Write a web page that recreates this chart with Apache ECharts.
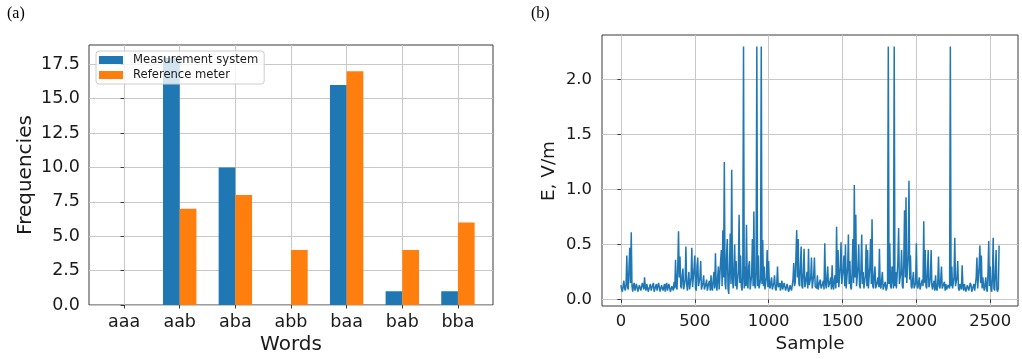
<!DOCTYPE html>
<html>
<head>
<meta charset="utf-8">
<script src="https://cdn.jsdelivr.net/npm/echarts@6/dist/echarts.min.js"></script>
<style>
  html, body { margin: 0; padding: 0; background: #fff; }
  #chart { width: 1022px; height: 359px; }
</style>
</head>
<body>
<div id="chart"></div>
<script>
// (a) word frequencies
const words = ["aaa", "aab", "aba", "abb", "baa", "bab", "bba"];
const measurement = [0, 18, 10, 0, 16, 1, 1];
const reference = [0, 7, 8, 4, 17, 4, 6];
const freqTicks = [0, 2.5, 5, 7.5, 10, 12.5, 15, 17.5];

// (b) E-field, one reading every sampleStep samples (20 per row = 100 samples)
const sampleStep = 5;
const eField = [
  0.13, 0.09, 0.07, 0.12, 0.17, 0.10, 0.08, 0.14, 0.40, 0.11, 0.09, 0.30, 0.47, 0.15, 0.61, 0.12, 0.07, 0.13, 0.15, 0.08,
  0.08, 0.14, 0.15, 0.07, 0.07, 0.13, 0.14, 0.08, 0.08, 0.15, 0.16, 0.09, 0.20, 0.11, 0.08, 0.14, 0.15, 0.07, 0.07, 0.12,
  0.14, 0.08, 0.08, 0.13, 0.15, 0.07, 0.07, 0.12, 0.14, 0.08, 0.08, 0.15, 0.15, 0.07, 0.07, 0.13, 0.13, 0.08, 0.08, 0.14,
  0.07, 0.13, 0.15, 0.08, 0.08, 0.14, 0.14, 0.07, 0.07, 0.12, 0.13, 0.08, 0.16, 0.10, 0.36, 0.12, 0.09, 0.30, 0.62, 0.20,
  0.39, 0.12, 0.10, 0.22, 0.28, 0.09, 0.09, 0.18, 0.48, 0.14, 0.08, 0.16, 0.25, 0.09, 0.10, 0.20, 0.47, 0.11, 0.12, 0.28,
  0.40, 0.10, 0.08, 0.30, 0.38, 0.12, 0.11, 0.20, 0.35, 0.09, 0.08, 0.15, 0.22, 0.09, 0.09, 0.14, 0.18, 0.08, 0.07, 0.15,
  0.17, 0.08, 0.22, 0.10, 0.08, 0.18, 0.25, 0.10, 0.42, 0.14, 0.08, 0.20, 0.30, 0.09, 0.10, 0.35, 0.45, 0.12, 0.63, 0.20,
  1.25, 0.15, 0.09, 0.40, 0.55, 0.10, 0.05, 0.30, 0.60, 0.14, 1.18, 0.20, 0.10, 0.28, 0.50, 0.12, 0.35, 0.09, 0.08, 0.25,
  0.77, 0.15, 0.40, 0.12, 0.08, 0.20, 2.30, 0.10, 0.30, 0.12, 0.68, 0.14, 0.10, 0.30, 0.35, 0.09, 0.09, 0.22, 0.55, 0.12,
  0.80, 0.14, 0.10, 0.25, 2.30, 0.12, 0.40, 0.10, 0.09, 0.18, 2.30, 0.14, 0.54, 0.12, 0.30, 0.09, 0.10, 0.20, 0.45, 0.11,
  0.35, 0.12, 0.10, 0.16, 0.20, 0.09, 0.09, 0.15, 0.22, 0.10, 0.08, 0.14, 0.30, 0.11, 0.10, 0.15, 0.08, 0.13, 0.17, 0.09,
  0.09, 0.15, 0.16, 0.08, 0.08, 0.14, 0.15, 0.07, 0.09, 0.13, 0.14, 0.08, 0.07, 0.18, 0.33, 0.12, 0.15, 0.40, 0.63, 0.20,
  0.55, 0.14, 0.12, 0.30, 0.48, 0.12, 0.10, 0.25, 0.46, 0.11, 0.14, 0.20, 0.25, 0.10, 0.46, 0.13, 0.12, 0.20, 0.38, 0.10,
  0.10, 0.22, 0.38, 0.12, 0.13, 0.10, 0.22, 0.09, 0.09, 0.16, 0.18, 0.10, 0.10, 0.14, 0.17, 0.09, 0.51, 0.15, 0.10, 0.20,
  0.30, 0.11, 0.10, 0.16, 0.20, 0.09, 0.31, 0.12, 0.09, 0.18, 0.22, 0.10, 0.66, 0.15, 0.45, 0.11, 0.10, 0.30, 0.52, 0.14,
  0.13, 0.28, 0.40, 0.12, 0.50, 0.10, 0.10, 0.30, 0.59, 0.14, 0.35, 0.11, 0.09, 0.25, 0.55, 0.15, 1.04, 0.20, 0.77, 0.12,
  0.12, 0.30, 0.50, 0.13, 0.10, 0.28, 0.59, 0.14, 0.25, 0.10, 0.09, 0.22, 0.50, 0.12, 0.45, 0.10, 0.10, 0.30, 0.55, 0.14,
  0.73, 0.12, 0.10, 0.22, 0.30, 0.10, 0.09, 0.16, 0.20, 0.11, 0.46, 0.12, 0.10, 0.18, 0.25, 0.09, 0.09, 0.14, 0.16, 0.08,
  0.10, 0.15, 2.30, 0.14, 0.51, 0.12, 0.10, 0.30, 0.20, 0.10, 2.30, 0.12, 0.25, 0.10, 0.10, 0.35, 0.65, 0.14, 0.13, 0.25,
  0.45, 0.12, 0.10, 0.35, 0.81, 0.20, 0.93, 0.15, 0.14, 0.40, 1.08, 0.18, 0.40, 0.12, 0.10, 0.18, 0.25, 0.10, 0.09, 0.15,
  0.51, 0.12, 0.10, 0.16, 0.20, 0.09, 0.09, 0.15, 0.18, 0.12, 0.71, 0.15, 0.45, 0.12, 0.10, 0.25, 0.45, 0.11, 0.14, 0.20,
  0.45, 0.12, 0.09, 0.14, 0.17, 0.08, 0.22, 0.10, 0.08, 0.15, 0.39, 0.12, 0.10, 0.18, 0.30, 0.10, 0.09, 0.14, 0.16, 0.08,
  0.14, 0.09, 0.08, 0.13, 0.14, 0.10, 2.30, 0.12, 0.30, 0.10, 0.09, 0.20, 0.56, 0.12, 0.12, 0.20, 0.35, 0.10, 0.08, 0.14,
  0.15, 0.09, 0.31, 0.12, 0.08, 0.14, 0.15, 0.07, 0.07, 0.13, 0.14, 0.08, 0.08, 0.15, 0.13, 0.07, 0.07, 0.12, 0.14, 0.08,
  0.08, 0.20, 0.38, 0.10, 0.10, 0.30, 0.49, 0.15, 0.40, 0.10, 0.20, 0.12, 0.08, 0.14, 0.20, 0.09, 0.07, 0.25, 0.53, 0.12,
  0.30, 0.09, 0.07, 0.20, 0.56, 0.10, 0.08, 0.25, 0.45, 0.09, 0.07, 0.10, 0.49
];
const sampleTicks = [0, 500, 1000, 1500, 2000, 2500];
const eTicks = [0, 0.5, 1, 1.5, 2];

const font = "DejaVu Sans";
const blue = "#1f77b4";
const orange = "#ff7f0e";
const gridColor = "#c8c8c8";
const frameColor = "#3a3a3a";

const chart = echarts.init(document.getElementById("chart"), null, { renderer: "canvas" });

function axisCommon(ticks, fontSize, margin, fmt) {
  return {
    axisLine: { show: false },
    axisTick: { show: true, inside: false, length: 3.5, customValues: ticks, lineStyle: { color: frameColor, width: 1 } },
    axisLabel: { customValues: ticks, margin: margin, fontFamily: font, fontSize: fontSize, color: "#1a1a1a", formatter: fmt },
    splitLine: { show: true, lineStyle: { color: gridColor, width: 1 } }
  };
}

const option = {
  animation: false,
  backgroundColor: "#fff",
  grid: [
    { left: 89, top: 45, width: 404, height: 260, show: true, borderColor: frameColor, borderWidth: 1, backgroundColor: "transparent", containLabel: false },
    { left: 602, top: 35, width: 416, height: 271, show: true, borderColor: frameColor, borderWidth: 1, backgroundColor: "transparent", containLabel: false }
  ],
  legend: {
    data: ["Measurement system", "Reference meter"],
    orient: "vertical",
    left: 96,
    top: 51,
    icon: "rect",
    itemWidth: 24,
    itemHeight: 8,
    itemGap: 3,
    padding: [3, 6, 3, 3],
    backgroundColor: "rgba(255,255,255,0.8)",
    borderColor: "#cccccc",
    borderWidth: 1,
    borderRadius: 3,
    textStyle: { fontFamily: font, fontSize: 11.6, color: "#1a1a1a", padding: [0, 0, 0, 5] }
  },
  xAxis: [
    Object.assign({ type: "value", gridIndex: 0, min: -0.63, max: 6.63 },
      axisCommon([0, 1, 2, 3, 4, 5, 6], 17.5, 8, v => words[Math.round(v)])),
    Object.assign({ type: "value", gridIndex: 1, min: -128, max: 2688 },
      axisCommon(sampleTicks, 16.4, 8, v => String(v)))
  ],
  yAxis: [
    Object.assign({ type: "value", gridIndex: 0, min: 0, max: 18.9 },
      axisCommon(freqTicks, 17.5, 9, v => v.toFixed(1))),
    Object.assign({ type: "value", gridIndex: 1, min: -0.06, max: 2.405 },
      axisCommon(eTicks, 16.4, 10, v => v.toFixed(1)))
  ],
  series: [
    {
      name: "Measurement system", type: "bar", xAxisIndex: 0, yAxisIndex: 0,
      barWidth: 16.7, barGap: "0%", itemStyle: { color: blue },
      data: measurement.map((v, i) => [i, v])
    },
    {
      name: "Reference meter", type: "bar", xAxisIndex: 0, yAxisIndex: 0,
      barWidth: 16.7, barGap: "0%", itemStyle: { color: orange },
      data: reference.map((v, i) => [i, v])
    },
    {
      name: "E", type: "line", xAxisIndex: 1, yAxisIndex: 1,
      showSymbol: false, symbol: "none",
      lineStyle: { color: blue, width: 1.5 },
      data: eField.map((v, i) => [i * sampleStep, v])
    }
  ],
  graphic: [
    { type: "text", left: 7, top: 6, style: { text: "(a)", font: "16px 'Liberation Serif'", fill: "#000" } },
    { type: "text", left: 531, top: 6, style: { text: "(b)", font: "16px 'Liberation Serif'", fill: "#000" } },
    { type: "text", x: 291, y: 345, style: { text: "Words", font: "20px '" + font + "'", fill: "#1a1a1a", align: "center", verticalAlign: "middle" } },
    { type: "text", x: 26, y: 175, rotation: Math.PI / 2, style: { text: "Frequencies", font: "20px '" + font + "'", fill: "#1a1a1a", align: "center", verticalAlign: "middle" } },
    { type: "text", x: 810, y: 344, style: { text: "Sample", font: "18.4px '" + font + "'", fill: "#1a1a1a", align: "center", verticalAlign: "middle" } },
    { type: "text", x: 549, y: 171, rotation: Math.PI / 2, style: { text: "E, V/m", font: "18.4px '" + font + "'", fill: "#1a1a1a", align: "center", verticalAlign: "middle" } }
  ]
};

chart.setOption(option);
</script>
</body>
</html>
